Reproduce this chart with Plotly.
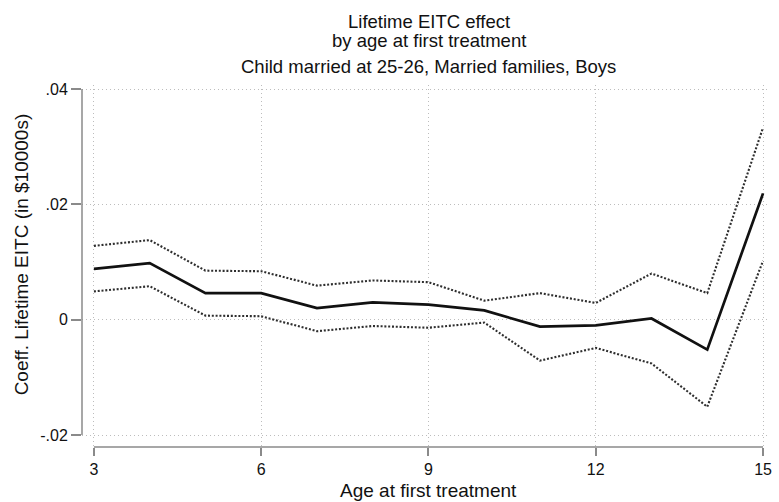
import plotly.graph_objects as go

# Age at first treatment
ages = [3, 4, 5, 6, 7, 8, 9, 10, 11, 12, 13, 14, 15]

# Coefficient on lifetime EITC (in $10000s) with 95% confidence band
coef = [0.0088, 0.0098, 0.0046, 0.0046, 0.0020, 0.0030, 0.0026,
        0.0016, -0.0012, -0.0010, 0.0002, -0.0052, 0.0219]
ci_upper = [0.0128, 0.0138, 0.0085, 0.0084, 0.0059, 0.0068, 0.0065,
            0.0033, 0.0046, 0.0029, 0.0080, 0.0046, 0.0333]
ci_lower = [0.0049, 0.0058, 0.0007, 0.0006, -0.0020, -0.0011, -0.0014,
            -0.0005, -0.0071, -0.0049, -0.0076, -0.0151, 0.0102]

# Axis ticks
x_ticks = [3, 6, 9, 12, 15]
y_ticks = [-0.02, 0, 0.02, 0.04]
y_tick_text = ["-.02", "0", ".02", ".04"]

title_lines = ["Lifetime EITC effect",
               "by age at first treatment",
               "Child married at 25-26, Married families, Boys"]
x_title = "Age at first treatment"
y_title = "Coeff. Lifetime EITC (in $10000s)"

W, H = 779, 502
ML, MR, MT, MB = 82, 7, 85, 55
PW, PH = W - ML - MR, H - MT - MB

FONT = "Liberation Sans, Arial, Helvetica, sans-serif"
AXIS_GREY = "#8a8a8a"


def px_x(p):
    return (p - ML) / PW


def px_y(p):
    return (H - MB - p) / PH


# Data ranges padded so the axes sit slightly off the data region
x_lo, x_hi = min(x_ticks), max(x_ticks)
y_lo, y_hi = min(y_ticks), max(y_ticks)
x_unit = (x_hi - x_lo) / 673.0
y_unit = (y_hi - y_lo) / 346.0
x_range = [x_lo - 12 * x_unit, x_hi + 5 * x_unit]
y_range = [y_lo - 12 * y_unit, y_hi + 4 * y_unit]

fig = go.Figure()

band_line = dict(color="#2e2e2e", width=2.1, dash="2px,1.8px")
fig.add_trace(go.Scatter(x=ages, y=ci_upper, mode="lines", line=band_line,
                         hoverinfo="skip", showlegend=False))
fig.add_trace(go.Scatter(x=ages, y=ci_lower, mode="lines", line=band_line,
                         hoverinfo="skip", showlegend=False))
fig.add_trace(go.Scatter(x=ages, y=coef, mode="lines",
                         line=dict(color="#111111", width=2.7),
                         showlegend=False))

# Axis lines spanning only the labelled range
fig.add_shape(type="line", xref="paper", yref="y", x0=0, x1=0,
              y0=y_lo, y1=y_hi, line=dict(color=AXIS_GREY, width=1.5))
fig.add_shape(type="line", xref="x", yref="paper", x0=x_lo, x1=x_hi,
              y0=0, y1=0, line=dict(color=AXIS_GREY, width=1.5))

annotations = []
for text, py in zip(title_lines, [21.5, 40.5, 66]):
    annotations.append(dict(text=text, xref="paper", yref="paper",
                            x=px_x(431), y=px_y(py), xanchor="center",
                            yanchor="middle", showarrow=False,
                            font=dict(family=FONT, size=18.5, color="#111111")))
annotations.append(dict(text=x_title, xref="paper", yref="paper",
                        x=px_x(431), y=px_y(490), xanchor="center",
                        yanchor="middle", showarrow=False,
                        font=dict(family=FONT, size=19, color="#111111")))
annotations.append(dict(text=y_title, xref="paper", yref="paper",
                        x=px_x(21), y=px_y(254), xanchor="center",
                        yanchor="middle", showarrow=False, textangle=-90,
                        font=dict(family=FONT, size=19, color="#111111")))

fig.update_layout(
    width=W, height=H,
    margin=dict(l=ML, r=MR, t=MT, b=MB, pad=0),
    paper_bgcolor="white", plot_bgcolor="white",
    font=dict(family=FONT, color="#111111"),
    annotations=annotations,
    xaxis=dict(range=x_range, tickvals=x_ticks, ticktext=[str(v) for v in x_ticks],
               showgrid=True, gridcolor="#bdbdbd", griddash="1px,3px", gridwidth=1,
               zeroline=False, showline=False,
               ticks="outside", ticklen=8, tickwidth=1.5, tickcolor=AXIS_GREY,
               tickfont=dict(family=FONT, size=16, color="#111111")),
    yaxis=dict(range=y_range, tickvals=y_ticks, ticktext=y_tick_text,
               showgrid=True, gridcolor="#bdbdbd", griddash="1px,3px", gridwidth=1,
               zeroline=False, showline=False,
               ticks="outside", ticklen=10, tickwidth=1.5, tickcolor=AXIS_GREY,
               tickfont=dict(family=FONT, size=16, color="#111111")),
)

fig.write_html("out.html")
